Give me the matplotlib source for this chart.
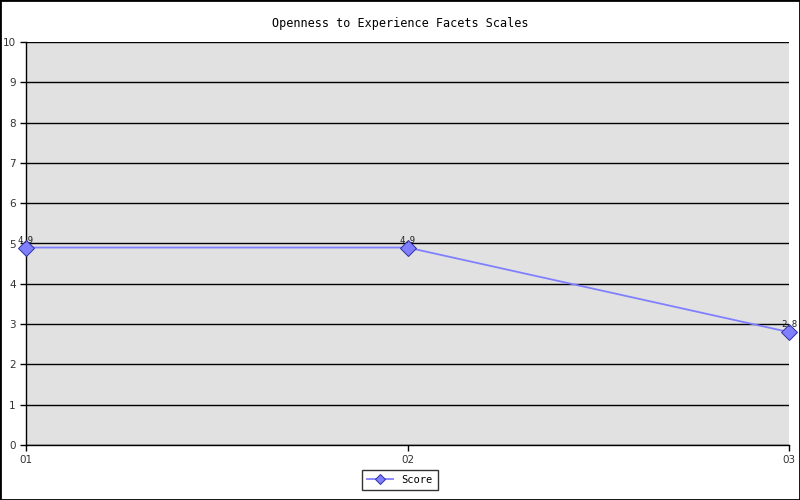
import matplotlib.pyplot as plt
from matplotlib.patches import Rectangle

categories = ["01", "02", "03"]
scores = [4.9, 4.9, 2.8]
yticks = list(range(0, 11))

plt.rcParams['font.family'] = ['DejaVu Sans Mono']

fig = plt.figure(figsize=(8, 5), dpi=100)
ax = fig.add_axes([0.0325, 0.11, 0.954, 0.806])
ax.set_facecolor('#e1e1e1')

x_pos = [i for i, _ in enumerate(categories)]
ax.plot(x_pos, scores, color='#8080ff', linewidth=1.3, marker='D', markersize=8,
        markerfacecolor='#8080ff', markeredgecolor='#3030a0', markeredgewidth=0.7,
        label='Score', clip_on=False, zorder=3)

for x, v in zip(x_pos, scores):
    ax.annotate(f"{v}", (x, v), xytext=(0, 2), textcoords='offset points',
                ha='center', va='bottom', fontsize=6.5, color='#222222')

ax.set_xlim(0, len(categories) - 1)
ax.set_ylim(0, 10)
ax.set_xticks(x_pos)
ax.set_xticklabels(categories, family='DejaVu Sans')
ax.set_yticks(yticks)
ax.set_yticklabels([str(t) for t in yticks], family='DejaVu Sans')
ax.tick_params(labelsize=7.5, colors='black', length=4, width=1, labelcolor='#333333')
ax.yaxis.grid(True, color='black', linewidth=1)
ax.set_axisbelow(True)
for side in ['top', 'right']:
    ax.spines[side].set_visible(False)
for side in ['left', 'bottom']:
    ax.spines[side].set_linewidth(1)

fig.suptitle("Openness to Experience Facets Scales", y=0.965, fontsize=8.5)

fig.legend(loc='center', bbox_to_anchor=(0.5, 0.04), fontsize=7.5, frameon=True,
           fancybox=False, edgecolor='black', handlelength=2.5, borderpad=0.5,
           markerscale=0.6)

fig.patches.append(Rectangle((0, 0), 1, 1, transform=fig.transFigure, fill=False,
                             edgecolor='black', linewidth=2))

fig.savefig('out.png', dpi=100)
